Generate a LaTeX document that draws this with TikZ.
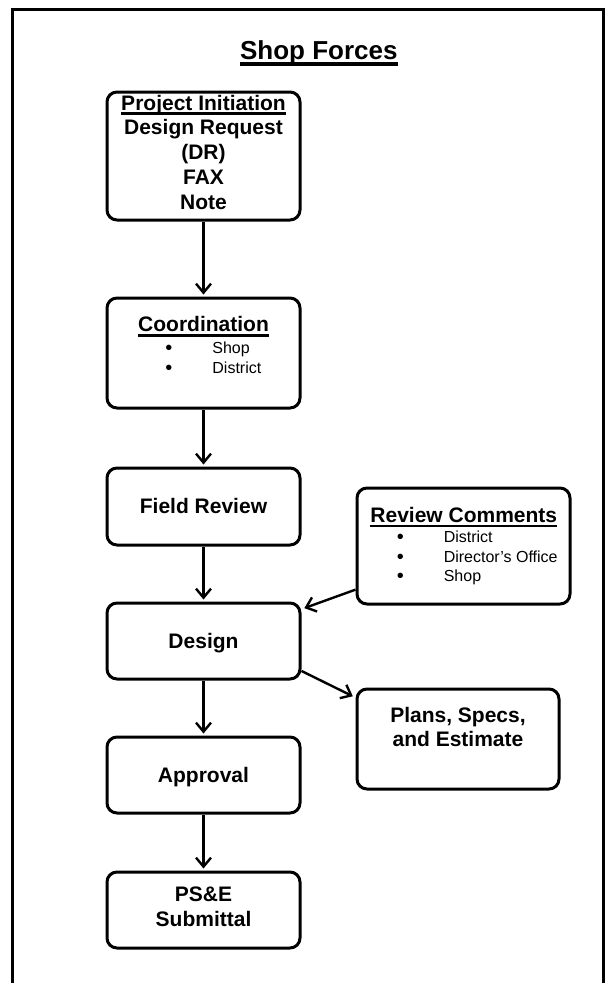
\documentclass[tikz,border=0pt]{standalone}
\usepackage{fontspec}
\setmainfont{Liberation Sans}
\usetikzlibrary{arrows.meta}
\newsavebox\ulbx
\newcommand\myul[3]{\sbox\ulbx{#1}\rlap{\vrule width\wd\ulbx height -#2 depth #3}\usebox\ulbx}
\newcommand\bul{\makebox[47pt][l]{\raisebox{-1pt}{\fontsize{20}{20}\selectfont•}}}
\begin{document}
\begin{tikzpicture}[x=1pt,y=-1pt,
  box/.style={draw,line width=3pt,rounded corners=10pt,inner sep=0pt},
  big/.style={font=\fontsize{21}{24.8}\selectfont\bfseries,inner sep=0pt},
  small/.style={font=\fontsize{16}{19.8}\selectfont,inner sep=0pt},
  arr/.style={line width=2.4pt,-{Straight Barb[length=9pt,width=15pt]},shorten >=2pt}]
\useasboundingbox (0,0) rectangle (608,983);
\draw[line width=3pt] (12,985) -- (12,9.3) -- (603.3,9.3) -- (603.3,985);
% title
\node[font=\fontsize{26}{31}\selectfont\bfseries,inner sep=0pt,anchor=base] (title) at (318.8,59.3) {\myul{Shop Forces}{3pt}{6.7pt}};
% boxes
\node[box,minimum width=193pt,minimum height=128pt] (b1) at (203.5,156) {};
\node[box,minimum width=193pt,minimum height=110pt] (b2) at (203.5,353) {};
\node[box,minimum width=193pt,minimum height=77pt] (b3) at (203.5,506.5) {};
\node[box,minimum width=193pt,minimum height=76pt] (b4) at (203.5,641) {};
\node[box,minimum width=193pt,minimum height=76pt] (b5) at (203.5,775) {};
\node[box,minimum width=193pt,minimum height=76pt] (b6) at (203.5,910) {};
\node[box,minimum width=213pt,minimum height=116pt] (rc) at (463.5,546) {};
\node[box,minimum width=202pt,minimum height=100pt] (pl) at (458,739) {};
% texts
\node[big,anchor=base] (t1) at (203.5,110) {\begin{tabular}[t]{@{}c@{}}\myul{Project Initiation}{2.3pt}{4.7pt}\\Design Request\\(DR)\\FAX\\Note\end{tabular}};
\node[big,anchor=base] (t2) at (203.5,331.7) {\myul{Coordination}{2.6pt}{5.4pt}};
\node[small,anchor=base west] (t2b) at (165.2,353.3) {\begin{tabular}[t]{@{}l@{}}\bul Shop\\\bul District\end{tabular}};
\node[big,anchor=base] (t3) at (203.5,513.3) {Field Review};
\node[big,anchor=base] (t4) at (203.5,648.3) {Design};
\node[big,anchor=base] (t5) at (203.5,782.3) {Approval};
\node[big,anchor=base] (t6) at (203.5,901.7) {\begin{tabular}[t]{@{}c@{}}PS\&E\\Submittal\end{tabular}};
\node[big,anchor=base] (t7) at (463.8,522.1) {\myul{Review Comments}{2.4pt}{5pt}};
\node[small,anchor=base west] (t7b) at (396.6,542.3) {\begin{tabular}[t]{@{}l@{}}\bul District\\\bul Director’s Office\\\bul Shop\end{tabular}};
\node[big,anchor=base] (t8) at (458,722) {\begin{tabular}[t]{@{}c@{}}Plans, Specs,\\and Estimate\end{tabular}};
% arrows
\draw[arr] (b1.south) -- (b2.north);
\draw[arr] (b2.south) -- (b3.north);
\draw[arr] (b3.south) -- (b4.north);
\draw[arr] (b4.south) -- (b5.north);
\draw[arr] (b5.south) -- (b6.north);
\draw[arr,shorten >=3pt] (rc.202) -- (b4.18);
\draw[arr,shorten >=3pt] (b4.-17) -- (pl.158);
\end{tikzpicture}
\end{document}
